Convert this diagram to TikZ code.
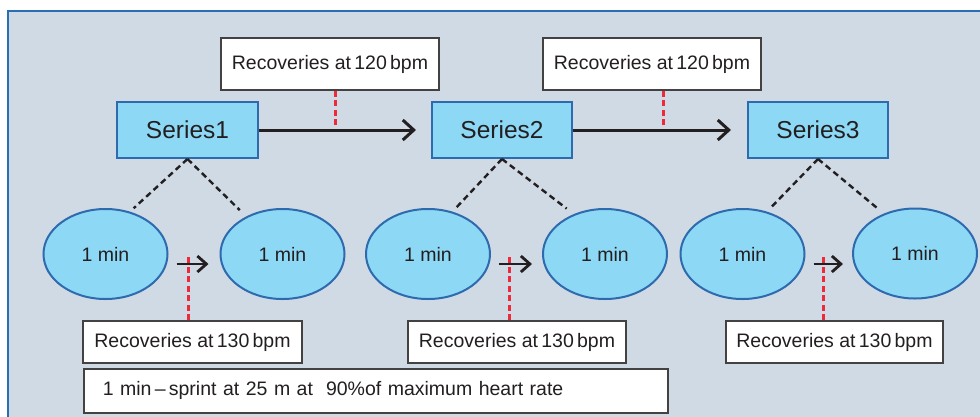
\documentclass[tikz,border=0pt]{standalone}
\usepackage{fontspec}
\setmainfont{Liberation Sans}
\usetikzlibrary{shapes.geometric,arrows.meta,calc}
\definecolor{bgc}{HTML}{D0DAE4}
\definecolor{framec}{HTML}{2A6EB5}
\definecolor{fillc}{HTML}{8DD8F5}
\definecolor{edgec}{HTML}{2E6AAE}
\definecolor{inkc}{HTML}{231F20}
\definecolor{redc}{HTML}{EE2A3A}
\tikzset{
  seriesbox/.style={draw=edgec, fill=fillc, line width=2pt, minimum width=140pt, minimum height=56pt, inner sep=0pt, font=\fontsize{24.5}{26}\selectfont, text=inkc},
  labelbox/.style={draw=inkc!85, fill=white, line width=1.6pt, minimum height=52pt, minimum width=218pt, inner sep=0pt, font=\fontsize{19.5}{21}\selectfont, text=inkc},
  lowbox/.style={labelbox, minimum height=42pt},
  oval/.style={ellipse, draw=edgec, fill=fillc, line width=2pt, minimum width=124pt, minimum height=90pt, inner sep=0pt, font=\fontsize{19.5}{21}\selectfont, text=inkc},
  bigarrow/.style={draw=inkc, line width=3pt, -{Straight Barb[length=11pt,width=20pt,line width=3pt]}},
  smallarrow/.style={draw=inkc, line width=2.8pt, -{Straight Barb[length=9pt,width=16pt,line width=2.8pt]}},
  reddash/.style={draw=redc, line width=3pt, dash pattern=on 6pt off 3.5pt},
  diag/.style={draw=inkc, line width=2.4pt, dash pattern=on 6pt off 4pt}
}
\begin{document}
\begin{tikzpicture}[x=1pt,y=-1pt]
\useasboundingbox (0,0) rectangle (980,416);
\fill[white] (0,0) rectangle (980,416);
\fill[bgc] (8,11) rectangle (985,420);
\draw[framec, line width=2.2pt] (8,420) -- (8,11) -- (985,11);

% series boxes
\node[seriesbox, minimum width=141pt] (s1) at (187.5,130) {Series1};
\node[seriesbox] (s2) at (502,130) {Series2};
\node[seriesbox] (s3) at (818,130) {Series3};

% top labels
\node[labelbox] (l1) at (330,64) {Recoveries at\,120\,bpm};
\node[labelbox] (l2) at (652,64) {Recoveries at\,120\,bpm};

% ellipses
\node[oval] (e1) at (105.5,254) {1 min};
\node[oval] (e2) at (282.5,254) {1 min};
\node[oval] (e3) at (428,254) {1 min};
\node[oval] (e4) at (605,254) {1 min};
\node[oval] (e5) at (742.5,254) {1 min};
\node[oval] (e6) at (915,253.5) {1 min};

% bottom labels
\node[lowbox, minimum width=219pt] (b1) at (192.5,342) {Recoveries at\,130\,bpm};
\node[lowbox] (b2) at (517,342) {Recoveries at\,130\,bpm};
\node[lowbox, minimum width=217pt] (b3) at (834.5,342) {Recoveries at\,130\,bpm};
\node[labelbox, minimum height=44pt, text width=546pt, inner xsep=19pt, inner ysep=0pt, align=left, anchor=north west] (w) at (83,368) {1 min\,--\,sprint at 25 m at \ 90\%of maximum heart rate};

% big arrows
\draw[bigarrow, shorten >=15pt] (s1.east) -- (s2.west);
\draw[bigarrow, shorten >=16pt] (s2.east) -- (s3.west);
\coordinate (r1) at (335,127);
\coordinate (r2) at (663,127);
\draw[reddash] (l1.south -| r1) -- (r1);
\draw[reddash] (l2.south -| r2) -- (r2);

% diagonal dashed links
\draw[diag, shorten >=5pt] (s1.south) -- (e1.60);
\draw[diag, shorten >=9pt] (s1.south) -- (e2.134);
\draw[diag, shorten >=5pt] (s2.south) -- (e3.60);
\draw[diag, shorten >=9pt] (s2.south) -- (e4.128);
\draw[diag, shorten >=5pt] (s3.south) -- (e5.60);
\draw[diag, shorten >=8pt] (s3.south) -- (e6.128);

% small arrows
\draw[smallarrow] ($(e1.east)+(8,10)$) -- ($(e2.west)+(-11,10)$);
\draw[smallarrow] ($(e3.east)+(8,10)$) -- ($(e4.west)+(-10,10)$);
\draw[smallarrow] ($(e5.east)+(8,10)$) -- ($(e6.west)+(-9,10.5)$);
\coordinate (r3) at (188,257);
\coordinate (r4) at (509,257);
\coordinate (r5) at (823,257);
\draw[reddash] (b1.north -| r3) -- (r3);
\draw[reddash] (b2.north -| r4) -- (r4);
\draw[reddash] (b3.north -| r5) -- (r5);
\end{tikzpicture}
\end{document}
